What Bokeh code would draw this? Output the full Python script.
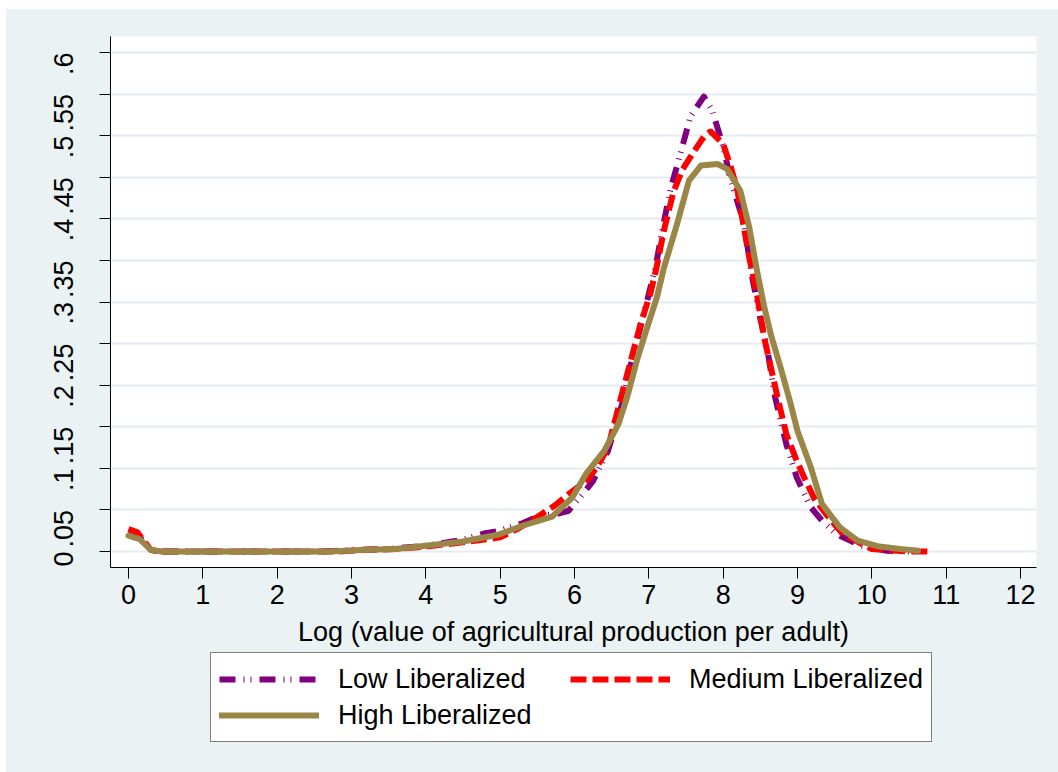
import math
from bokeh.plotting import figure
from bokeh.layouts import column
from bokeh.models import FixedTicker, Legend, LegendItem, Range1d
from bokeh.embed import file_html
from bokeh.resources import INLINE

# ---- data ----
low_x = [0.0, 0.12, 0.3, 0.42, 1.0, 2.0, 2.6, 3.0, 3.5, 4.0, 4.5, 4.8, 5.0, 5.3, 5.53, 5.75, 5.92,
         6.11, 6.25, 6.45, 6.64, 6.75, 6.9, 7.09, 7.2, 7.29, 7.43, 7.56, 7.74, 7.85, 8.0, 8.1,
         8.28, 8.39, 8.5, 8.6, 8.7, 8.85, 8.99, 9.18, 9.35, 9.52, 9.86, 10.2, 10.5]
low_y = [0.022, 0.02, 0.003, 0.0, 0.0, 0.0, 0.0, 0.002, 0.003, 0.007, 0.014, 0.022, 0.025, 0.034,
         0.043, 0.045, 0.049, 0.069, 0.085, 0.121, 0.177, 0.222, 0.274, 0.342, 0.395, 0.435, 0.48,
         0.523, 0.547, 0.531, 0.487, 0.447, 0.395, 0.33, 0.28, 0.24, 0.185, 0.129, 0.089, 0.053,
         0.035, 0.021, 0.007, 0.001, 0.0]

med_x = [0.0, 0.12, 0.3, 0.4, 1.0, 2.0, 2.8, 3.2, 3.6, 4.0, 4.5, 5.0, 5.25, 5.49, 5.73, 5.92, 6.16,
         6.3, 6.45, 6.64, 6.75, 6.89, 7.02, 7.1, 7.2, 7.33, 7.45, 7.6, 7.75, 7.83, 8.0, 8.1, 8.19,
         8.26, 8.35, 8.46, 8.55, 8.64, 8.73, 8.85, 8.99, 9.09, 9.23, 9.42, 9.61, 10.0, 10.48, 10.82]
med_y = [0.027, 0.023, 0.002, 0.0, 0.0, 0.0, 0.0, 0.002, 0.003, 0.006, 0.011, 0.017, 0.028, 0.041,
         0.055, 0.069, 0.085, 0.101, 0.125, 0.19, 0.227, 0.274, 0.31, 0.34, 0.385, 0.432, 0.459,
         0.48, 0.5, 0.505, 0.49, 0.463, 0.435, 0.399, 0.354, 0.306, 0.258, 0.222, 0.186, 0.141,
         0.109, 0.089, 0.063, 0.041, 0.021, 0.003, 0.0, 0.0]

high_x = [0.0, 0.15, 0.3, 0.45, 1.0, 2.0, 2.7, 3.2, 3.6, 4.0, 4.5, 4.9, 5.0, 5.3, 5.7, 5.97, 6.16,
          6.4, 6.59, 6.71, 6.84, 6.98, 7.11, 7.2, 7.3, 7.38, 7.54, 7.7, 7.92, 8.05, 8.23, 8.35,
          8.45, 8.55, 8.65, 8.77, 8.9, 9.0, 9.18, 9.33, 9.57, 9.81, 10.1, 10.38, 10.62]
high_y = [0.019, 0.015, 0.002, 0.0, 0.0, 0.0, 0.0, 0.002, 0.003, 0.007, 0.012, 0.019, 0.021, 0.031,
          0.042, 0.065, 0.094, 0.121, 0.153, 0.186, 0.23, 0.27, 0.306, 0.34, 0.37, 0.394, 0.446,
          0.464, 0.466, 0.46, 0.434, 0.39, 0.34, 0.295, 0.258, 0.222, 0.18, 0.145, 0.101, 0.057,
          0.029, 0.013, 0.006, 0.003, 0.001]

x_ticks = list(range(0, 13))
y_ticks = [0, 0.05, 0.1, 0.15, 0.2, 0.25, 0.3, 0.35, 0.4, 0.45, 0.5, 0.55, 0.6]
y_tick_labels = ["0", ".05", ".1", ".15", ".2", ".25", ".3", ".35", ".4", ".45", ".5", ".55", ".6"]

series_names = ["Low Liberalized", "Medium Liberalized", "High Liberalized"]

FONT = "Liberation Sans"
BG = "#EAF2F3"
STYLES = [dict(line_color="#800080", line_width=6, line_dash="16 8 1 6 1 8", line_cap="butt", line_join="round"),
          dict(line_color="#FF0000", line_width=6, line_dash="16 6", line_cap="butt", line_join="round"),
          dict(line_color="#9A8646", line_width=6, line_cap="round", line_join="round")]

# ---------------- main plot ----------------
p = figure(frame_width=926, frame_height=531,
           x_range=Range1d(-0.242, 12.215), y_range=Range1d(-0.0192, 0.6192),
           output_backend="svg", toolbar_location=None,
           min_border_left=104, min_border_right=22, min_border_top=27, min_border_bottom=84)
p.background_fill_color = "white"
p.border_fill_color = BG
p.outline_line_color = None

p.xgrid.grid_line_color = None
p.ygrid.ticker = FixedTicker(ticks=y_ticks)
p.ygrid.grid_line_color = "#E3ECEF"
p.ygrid.grid_line_width = 2

p.xaxis.ticker = FixedTicker(ticks=x_ticks)
p.yaxis.ticker = FixedTicker(ticks=y_ticks)
p.yaxis.major_label_overrides = {t: l for t, l in zip(y_ticks, y_tick_labels)}
for ax in (p.xaxis[0], p.yaxis[0]):
    ax.axis_line_color = "black"
    ax.axis_line_width = 1
    ax.major_tick_line_color = "black"
    ax.major_tick_line_width = 1
    ax.major_tick_in = 0
    ax.major_tick_out = 11
    ax.minor_tick_line_color = None
    ax.major_label_text_font = FONT
    ax.major_label_text_font_size = "27px"
    ax.major_label_text_color = "black"
p.yaxis.major_label_orientation = math.pi / 2
p.yaxis.major_label_standoff = 36
p.xaxis.major_label_standoff = 6
p.xaxis.axis_label = "Log (value of agricultural production per adult)"
p.xaxis.axis_label_text_font = FONT
p.xaxis.axis_label_text_font_size = "27px"
p.xaxis.axis_label_text_font_style = "normal"
p.xaxis.axis_label_text_color = "black"
p.xaxis.axis_label_standoff = 10

p.line(low_x, low_y, **STYLES[0])
p.line(med_x, med_y, **STYLES[1])
p.line(high_x, high_y, **STYLES[2])

# ---------------- legend strip ----------------
lg = figure(frame_width=1052, frame_height=121, x_range=Range1d(0, 1), y_range=Range1d(0, 1),
            x_axis_type=None, y_axis_type=None, output_backend="svg", toolbar_location=None,
            min_border=0)
lg.background_fill_color = BG
lg.border_fill_color = BG
lg.outline_line_color = None
lg.xgrid.visible = False
lg.ygrid.visible = False
# off-screen stand-ins that only carry the styles for the legend swatches
d_low = lg.line([-2, -1], [-2, -2], **STYLES[0])
d_med = lg.line([-2, -1], [-2, -2], **STYLES[1])
d_high = lg.line([-2, -1], [-2, -2], **STYLES[2])

# column-major fill: column 1 = Low, High ; column 2 = Medium
legend = Legend(items=[LegendItem(label=series_names[0], renderers=[d_low]),
                       LegendItem(label=series_names[2], renderers=[d_high]),
                       LegendItem(label=series_names[1], renderers=[d_med])],
                location=(204, 30), ncols=2)
legend.label_text_font = FONT
legend.label_text_font_size = "27px"
legend.label_text_color = "black"
legend.glyph_width = 100
legend.glyph_height = 36
legend.label_height = 36
legend.label_width = 232
legend.label_standoff = 19
legend.spacing = 0
legend.padding = 8
legend.margin = 0
legend.border_line_color = "black"
legend.border_line_width = 1
legend.background_fill_color = "white"
legend.background_fill_alpha = 1
lg.add_layout(legend, "center")

layout = column(p, lg, spacing=0)
layout.margin = (9, 0, 0, 6)
layout.styles = {"background-color": BG}

open("out.html", "w").write(file_html(layout, INLINE))
